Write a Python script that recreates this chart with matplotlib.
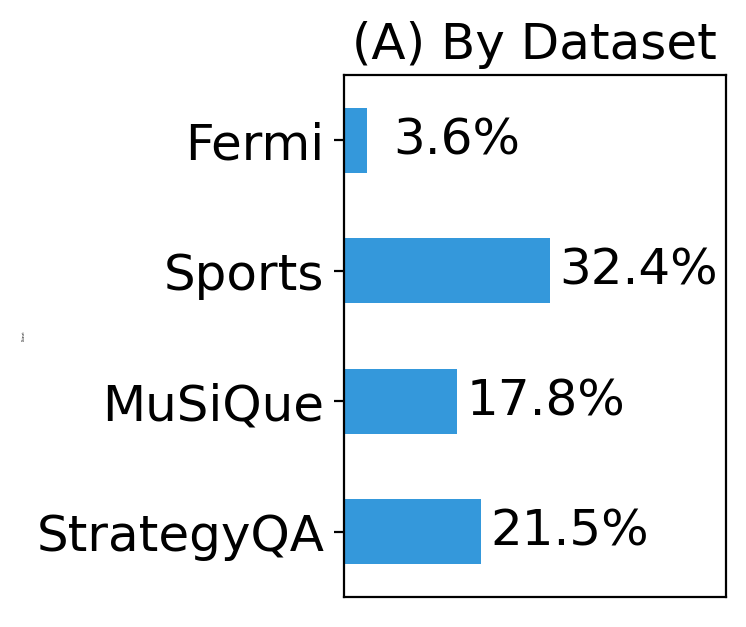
import matplotlib.pyplot as plt

datasets = ['StrategyQA', 'MuSiQue', 'Sports', 'Fermi']
shares = [21.5, 17.8, 32.4, 3.6]
bar_color = '#3498db'

fig = plt.figure(figsize=(3.73, 3.135), dpi=200)
ax = fig.add_axes([0.461, 0.048, 0.512, 0.832])

ypos = list(range(len(datasets)))
ax.barh(ypos, shares, height=0.5, color=bar_color)
ax.set_yticks(ypos)
ax.set_yticklabels(datasets, fontsize=18)
ax.set_xticks([])
ax.set_xlim(0, 60)
ax.set_ylim(-0.5, 3.5)
ax.set_title('(A) By Dataset', fontsize=18)
ax.set_ylabel('Dataset', fontsize=1, labelpad=4)

# labels next to the bars, short bars get pushed out a bit
for y, v in zip(ypos, shares):
    ax.text(max(v, 6.2) + 1.5, y, f'{v}%', va='center', ha='left', fontsize=18)

fig.savefig('out.png', dpi=200)
